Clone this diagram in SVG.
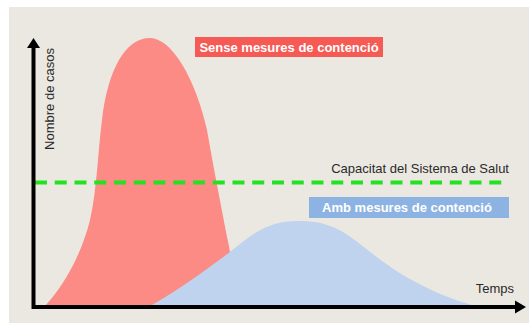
<svg xmlns="http://www.w3.org/2000/svg" width="529" height="323" viewBox="0 0 529 323">
<style>
.lbl{font-family:"Liberation Sans",Arial,sans-serif;font-size:13px;fill:#2a2a2a}
.tag{font-family:"Liberation Sans",Arial,sans-serif;font-size:13px;font-weight:bold;fill:#ffffff}
.axis{fill:none;stroke:#000;stroke-width:4}
</style>
<rect x="0" y="0" width="529" height="323" fill="#ffffff"/>
<rect x="9" y="7" width="520" height="316" fill="#ebe8e1"/>
<g id="curve-sense">
<path d="M45,306 C60,290 80,260 90,220 C97,190 98,150 102,120 C108,70 125,38 150,38 C172,38 196,80 207,130 C214,170 220,200 227,237 C230,250 232,260 235,306 Z" fill="#fc8a85"/>
</g>
<g id="curve-amb">
<path d="M150,306 C175,292 210,268 240,244 C260,228 275,221 298,221 C325,221 340,228 360,244 C390,268 420,290 475,306 Z" fill="#bfd2ee"/>
</g>
<g id="capacitat">
<line x1="35" y1="182.5" x2="509" y2="182.5" stroke="#22e222" stroke-width="4" stroke-dasharray="12 7.75"/>
<text class="lbl" x="509" y="173" text-anchor="end">Capacitat del Sistema de Salut</text>
</g>
<g id="label-sense">
<rect x="195" y="37" width="188" height="20" fill="#f55a55"/>
<text class="tag" x="289" y="51.5" text-anchor="middle">Sense mesures de contenció</text>
</g>
<g id="label-amb">
<rect x="309" y="197" width="200" height="21" fill="#8db3e2"/>
<text class="tag" x="407" y="212" text-anchor="middle">Amb mesures de contenció</text>
</g>
<g id="axes">
<polyline class="axis" points="33.5,46 33.5,307 517,307"/>
<polygon points="33.5,38 27,48 40,48" fill="#000"/>
<polygon points="526,307 515,300.5 515,313.5" fill="#000"/>
<text class="lbl" x="514" y="293" text-anchor="end">Temps</text>
<text class="lbl" transform="translate(54,99) rotate(-90)" text-anchor="middle">Nombre de casos</text>
</g>
</svg>
